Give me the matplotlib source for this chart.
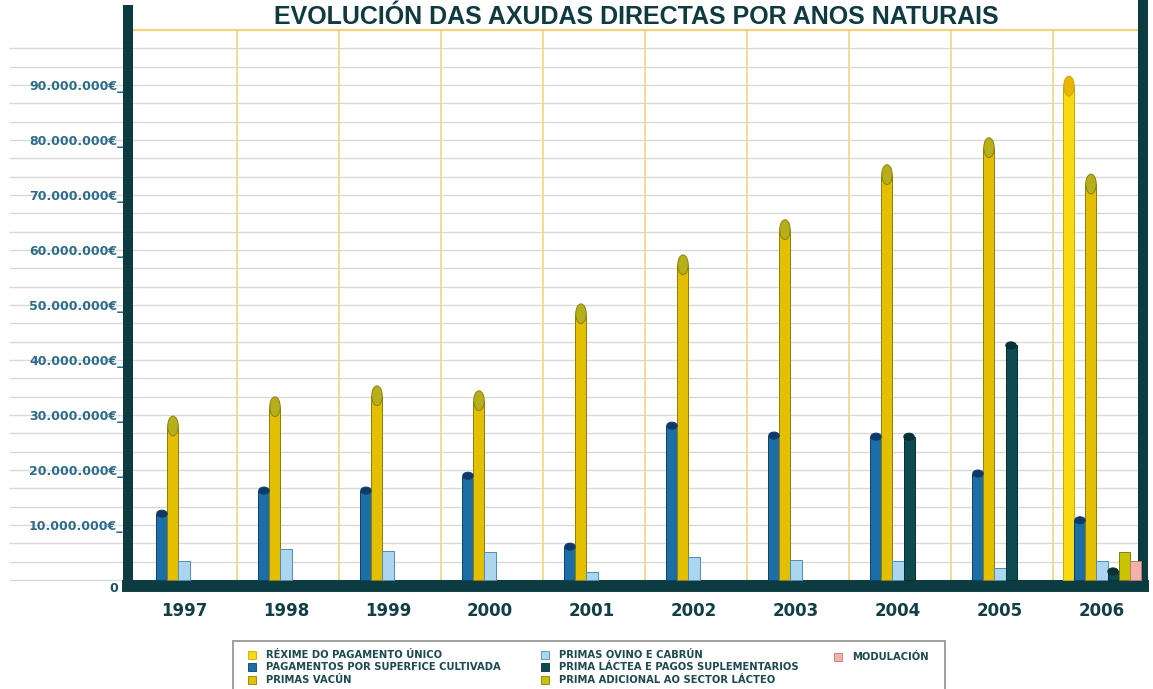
import matplotlib
matplotlib.use("Agg")
import matplotlib.pyplot as plt
from matplotlib.patches import Ellipse, Rectangle
import numpy as np

# ---------------- data (euros) ----------------
years = ["1997", "1998", "1999", "2000", "2001", "2002", "2003", "2004", "2005", "2006"]
rexime_pago_unico = [0, 0, 0, 0, 0, 0, 0, 0, 0, 91.6e6]
pagamentos_superficie = [12.7e6, 16.9e6, 16.9e6, 19.6e6, 6.7e6, 28.7e6, 26.9e6, 26.7e6, 20.0e6, 11.5e6]
primas_vacun = [29.8e6, 33.3e6, 35.3e6, 34.4e6, 50.2e6, 59.1e6, 65.5e6, 75.5e6, 80.4e6, 73.8e6]
primas_ovino = [3.5e6, 5.6e6, 5.3e6, 5.1e6, 1.5e6, 4.2e6, 3.6e6, 3.5e6, 2.2e6, 3.5e6]
prima_lactea = [0, 0, 0, 0, 0, 0, 0, 26.7e6, 43.3e6, 2.2e6]
prima_adicional = [0, 0, 0, 0, 0, 0, 0, 0, 0, 5.1e6]
modulacion = [0, 0, 0, 0, 0, 0, 0, 0, 0, 3.5e6]

ytick_values = [10e6, 20e6, 30e6, 40e6, 50e6, 60e6, 70e6, 80e6, 90e6]
ytick_labels = ["10.000.000€_", "20.000.000€_", "30.000.000€_", "40.000.000€_",
                "50.000.000€_", "60.000.000€_", "70.000.000€_", "80.000.000€_",
                "90.000.000€_"]

legend_labels = ["RÉXIME DO PAGAMENTO ÚNICO", "PAGAMENTOS POR SUPERFICE CULTIVADA",
                 "PRIMAS VACÚN", "PRIMAS OVINO E CABRÚN",
                 "PRIMA LÁCTEA E PAGOS SUPLEMENTARIOS",
                 "PRIMA ADICIONAL AO SECTOR LÁCTEO", "MODULACIÓN"]
title = "EVOLUCIÓN DAS AXUDAS DIRECTAS POR ANOS NATURAIS"

# ---------------- style ----------------
W, H = 1153, 689
DARK = "#0c3c42"
fig = plt.figure(figsize=(W / 100, H / 100), dpi=100)
fig.patch.set_facecolor("white")

def fx(x):
    return x / W

def fy(y):
    return 1 - y / H

ax_left, ax_right, ax_bottom, ax_top = 128, 1143, 586, 0
ax = fig.add_axes([fx(ax_left), fy(ax_bottom), (ax_right - ax_left) / W, (ax_bottom - ax_top) / H])

px_per_10M = 55.0
y0_px = 580
ylo = -(ax_bottom - y0_px) / px_per_10M * 10e6
yhi = (y0_px - ax_top) / px_per_10M * 10e6
ax.set_ylim(ylo, yhi)
spacing = 102.0
c0 = 184.0
ax.set_xlim((ax_left - c0) / spacing, (ax_right - c0) / spacing)

x = np.arange(len(years))
w = 0.108

series = [
    (rexime_pago_unico, -3, "#f7da12", "#c9a800", "#eab400", 3.6e6),
    (pagamentos_superficie, -2, "#1c6fa6", "#0e3f70", "#0d3a6a", 1.3e6),
    (primas_vacun, -1, "#e3bf00", "#8f7f0c", "#b5b01a", 3.6e6),
    (primas_ovino, 0, "#acd6ef", "#4e8db5", None, 0),
    (prima_lactea, 1, "#0e4b50", "#072e32", "#0a3236", 1.3e6),
    (prima_adicional, 2, "#c9c400", "#7f7c10", None, 0),
    (modulacion, 3, "#f4b0ab", "#b97a76", None, 0),
]

for vals, k, col, edge, capcol, cap in series:
    vals = np.asarray(vals, dtype=float)
    m = vals > 0
    xs = x[m] + k * w
    hs = vals[m] - cap / 2
    ax.bar(xs, hs, width=w, color=col, edgecolor=edge, linewidth=0.7, zorder=3)
    if capcol is not None:
        for xi, hi in zip(xs, hs):
            ax.add_patch(Ellipse((xi, hi), w * 0.95, cap, facecolor=capcol,
                                 edgecolor=edge, linewidth=0.7, zorder=4))

# gridlines (extend into label area)
xmin_frac = (10 - ax_left) / (ax_right - ax_left)
for v in np.arange(0, 99e6, 10e6 / 3):
    ax.axhline(v, xmin=xmin_frac, xmax=1, color="#d9d9d9", lw=1.0, zorder=0, clip_on=False)

# separators between years
ax.vlines(x[:-1] + 0.52, 0, 100e6, color="#f5d98c", lw=1.4, zorder=1)
ax.hlines(100e6, ax.get_xlim()[0], ax.get_xlim()[1], color="#f2d27c", lw=1.6, zorder=1)

# spines
ax.spines["top"].set_visible(False)
for s, lw in (("left", 7.2), ("right", 7.2), ("bottom", 8.6)):
    ax.spines[s].set_color(DARK)
    ax.spines[s].set_linewidth(lw)
    ax.spines[s].set_capstyle("projecting")
ax.spines["left"].set_bounds(ylo, (y0_px - 10) / px_per_10M * 10e6)

ax.set_yticks(ytick_values)
ax.set_yticklabels(ytick_labels, fontsize=9, fontweight="bold", color="#2d6b8c")
ax.tick_params(axis="y", length=0, pad=3.2)
ax.set_xticks(x)
ax.set_xticklabels(years, fontsize=12, fontweight="bold", color="#123f46")
ax.tick_params(axis="x", length=0, pad=11.5)

fig.text(fx(118), fy(588), "0", ha="right", va="center", fontsize=9,
         fontweight="bold", color="#1a4f5f")

# title
fig.text(fx(636), fy(24), title, ha="center", va="baseline", fontsize=18,
         fontweight="bold", family="Liberation Sans", color="#0e3a40")

# legend
fig.add_artist(Rectangle((fx(233), fy(700)), (945 - 233) / W, (700 - 641) / H,
                         transform=fig.transFigure, fill=False, edgecolor="#8f8f8f", lw=1.2))
leg_colors = ["#f7da12", "#1c6fa6", "#e3bf00", "#acd6ef", "#0e4b50", "#c9c400", "#f4b0ab"]
leg_edges = ["#c9a800", "#0e3f70", "#8f7f0c", "#4e8db5", "#072e32", "#7f7c10", "#b97a76"]
leg_pos = [(252, 655), (252, 667), (252, 680), (545, 655), (545, 667), (545, 680), (838, 657)]
for lab, col, ec, (mx, my) in zip(legend_labels, leg_colors, leg_edges, leg_pos):
    fig.add_artist(Rectangle((fx(mx - 4), fy(my + 4)), 8 / W, 8 / H, transform=fig.transFigure,
                             facecolor=col, edgecolor=ec, lw=0.6))
    fig.text(fx(mx + 14), fy(my), lab, ha="left", va="center", fontsize=7.2,
             fontweight="bold", color="#1c4a50")

fig.savefig("out.png", dpi=100, facecolor="white")
